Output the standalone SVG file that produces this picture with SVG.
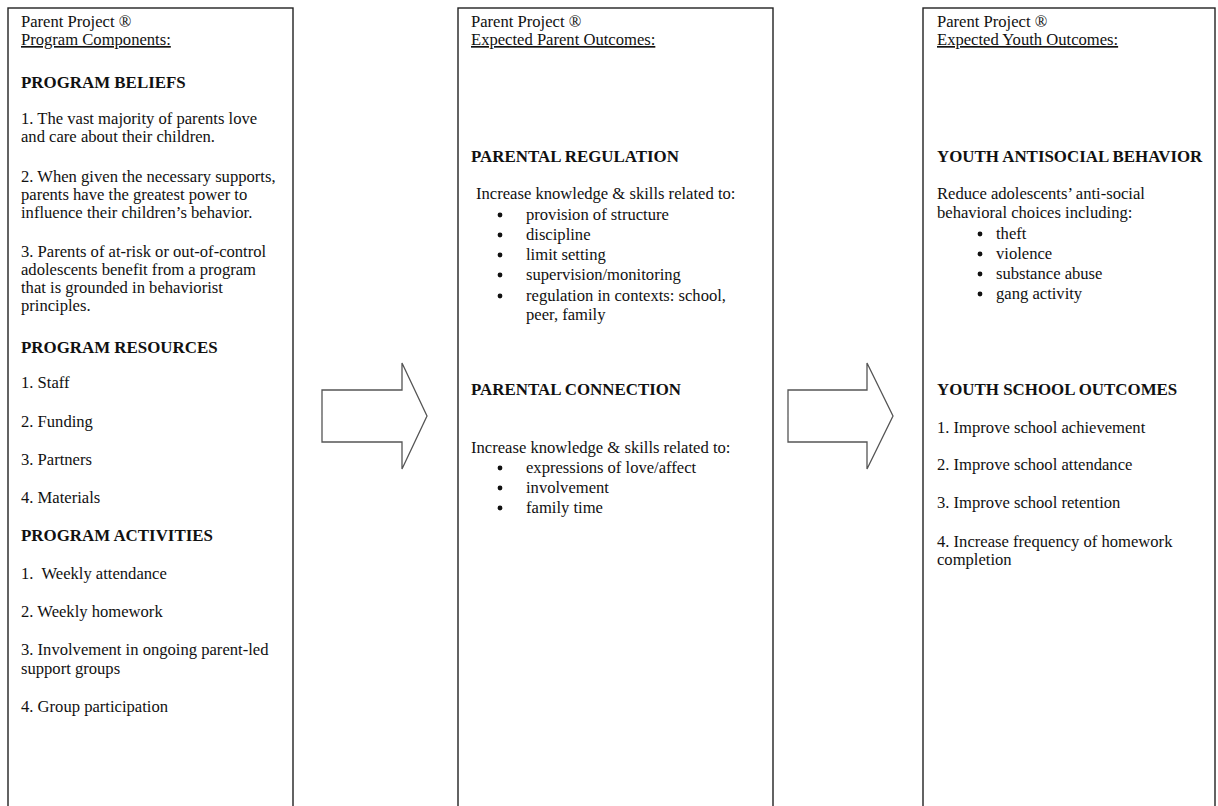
<svg xmlns="http://www.w3.org/2000/svg" width="1218" height="806" viewBox="0 0 1218 806">
<style>
.box{fill:#fff;stroke:#222;stroke-width:1.4}
.arr{fill:#fff;stroke:#555;stroke-width:1.3;stroke-linejoin:miter}
text{font-family:"Liberation Serif","Times New Roman",serif;font-size:16.6px;fill:#111}
.h{font-weight:bold;font-size:16.9px}
.u{text-decoration:underline}
.dot{fill:#111}
</style>
<rect width="1218" height="806" fill="#fff"/>
<g id="components">
<rect class="box" x="8" y="8" width="285" height="820"/>
<text x="21" y="27">Parent Project ®</text>
<text x="21" y="45" class="u">Program Components:</text>
<text x="21" y="88" class="h">PROGRAM BELIEFS</text>
<text x="21" y="124">1. The vast majority of parents love</text>
<text x="21" y="142">and care about their children.</text>
<text x="21" y="182">2. When given the necessary supports,</text>
<text x="21" y="200">parents have the greatest power to</text>
<text x="21" y="218">influence their children’s behavior.</text>
<text x="21" y="257">3. Parents of at-risk or out-of-control</text>
<text x="21" y="275">adolescents benefit from a program</text>
<text x="21" y="293">that is grounded in behaviorist</text>
<text x="21" y="311">principles.</text>
<text x="21" y="353" class="h">PROGRAM RESOURCES</text>
<text x="21" y="388">1. Staff</text>
<text x="21" y="427">2. Funding</text>
<text x="21" y="465">3. Partners</text>
<text x="21" y="503">4. Materials</text>
<text x="21" y="541" class="h">PROGRAM ACTIVITIES</text>
<text x="21" y="579" xml:space="preserve">1.  Weekly attendance</text>
<text x="21" y="617">2. Weekly homework</text>
<text x="21" y="655">3. Involvement in ongoing parent-led</text>
<text x="21" y="674">support groups</text>
<text x="21" y="712">4. Group participation</text>
</g>
<g id="parent-outcomes">
<rect class="box" x="458" y="8" width="315" height="820"/>
<text x="471" y="27">Parent Project ®</text>
<text x="471" y="45" class="u">Expected Parent Outcomes:</text>
<text x="471" y="162" class="h">PARENTAL REGULATION</text>
<text x="476" y="199">Increase knowledge &amp; skills related to:</text>
<circle class="dot" cx="500" cy="215" r="2.4"/>
<text x="526" y="220">provision of structure</text>
<circle class="dot" cx="500" cy="235" r="2.4"/>
<text x="526" y="240">discipline</text>
<circle class="dot" cx="500" cy="255" r="2.4"/>
<text x="526" y="260">limit setting</text>
<circle class="dot" cx="500" cy="275" r="2.4"/>
<text x="526" y="280">supervision/monitoring</text>
<circle class="dot" cx="500" cy="296" r="2.4"/>
<text x="526" y="301">regulation in contexts: school,</text>
<text x="526" y="320">peer, family</text>
<text x="471" y="395" class="h">PARENTAL CONNECTION</text>
<text x="471" y="453">Increase knowledge &amp; skills related to:</text>
<circle class="dot" cx="500" cy="468" r="2.4"/>
<text x="526" y="473">expressions of love/affect</text>
<circle class="dot" cx="500" cy="488" r="2.4"/>
<text x="526" y="493">involvement</text>
<circle class="dot" cx="500" cy="508" r="2.4"/>
<text x="526" y="513">family time</text>
</g>
<g id="youth-outcomes">
<rect class="box" x="923" y="8" width="292" height="820"/>
<text x="937" y="27">Parent Project ®</text>
<text x="937" y="45" class="u">Expected Youth Outcomes:</text>
<text x="937" y="162" class="h">YOUTH ANTISOCIAL BEHAVIOR</text>
<text x="937" y="199">Reduce adolescents’ anti-social</text>
<text x="937" y="218">behavioral choices including:</text>
<circle class="dot" cx="980" cy="234" r="2.4"/>
<text x="996" y="239">theft</text>
<circle class="dot" cx="980" cy="254" r="2.4"/>
<text x="996" y="259">violence</text>
<circle class="dot" cx="980" cy="274" r="2.4"/>
<text x="996" y="279">substance abuse</text>
<circle class="dot" cx="980" cy="294" r="2.4"/>
<text x="996" y="299">gang activity</text>
<text x="937" y="395" class="h">YOUTH SCHOOL OUTCOMES</text>
<text x="937" y="433">1. Improve school achievement</text>
<text x="937" y="470">2. Improve school attendance</text>
<text x="937" y="508">3. Improve school retention</text>
<text x="937" y="547">4. Increase frequency of homework</text>
<text x="937" y="565">completion</text>
</g>
<g id="connectors">
<polygon class="arr" points="322,390 402,390 402,363 427,416 402,469 402,442 322,442"/>
<polygon class="arr" points="788,390 867,390 867,363 893,416 867,469 867,442 788,442"/>
</g>
</svg>
